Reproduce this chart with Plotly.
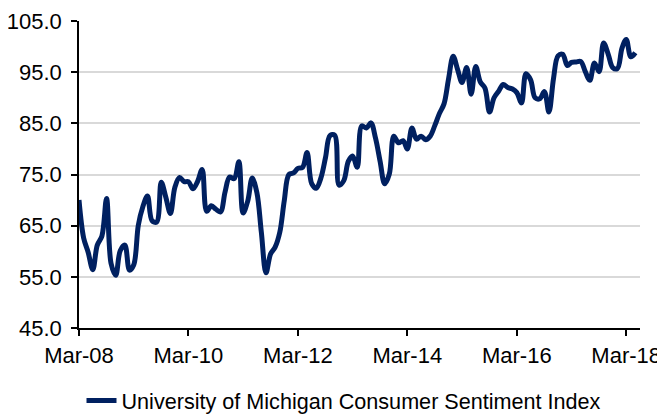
import pandas as pd
import plotly.graph_objects as go

# Monthly dates Mar-2008 .. May-2018
months = pd.date_range("2008-03-01", "2018-05-01", freq="MS")

sentiment_2008 = [70.0, 62.6, 59.8, 56.4, 61.2, 63.0, 70.3, 57.6, 55.3, 60.1]
sentiment_2009 = [61.2, 56.3, 57.3, 65.1, 68.7, 70.8, 66.0, 65.7, 73.5, 70.6, 67.4, 72.5]
sentiment_2010 = [74.4, 73.6, 73.6, 72.2, 73.6, 76.0, 67.8, 68.9, 68.2, 67.7, 71.6, 74.5]
sentiment_2011 = [74.2, 77.5, 67.5, 69.8, 74.3, 71.5, 63.7, 55.8, 59.5, 60.8, 63.7, 69.9]
sentiment_2012 = [75.0, 75.3, 76.2, 76.4, 79.3, 73.2, 72.3, 74.3, 78.3, 82.6, 82.7, 72.9]
sentiment_2013 = [73.8, 77.6, 78.6, 76.4, 84.5, 84.1, 85.1, 82.1, 77.5, 73.2, 75.1, 82.5]
sentiment_2014 = [81.2, 81.6, 80.0, 84.1, 81.9, 82.5, 81.8, 82.5, 84.6, 86.9, 88.8, 93.6]
sentiment_2015 = [98.1, 95.4, 93.0, 95.9, 90.7, 96.1, 93.1, 91.9, 87.2, 90.0, 91.3, 92.6]
sentiment_2016 = [92.0, 91.7, 91.0, 89.0, 94.7, 93.5, 90.0, 89.8, 91.2, 87.2, 93.8, 98.2]
sentiment_2017 = [98.5, 96.3, 96.9, 97.0, 97.1, 95.1, 93.4, 96.8, 95.1, 100.7, 98.5, 95.9]
sentiment_2018 = [95.7, 99.7, 101.4, 98.0, 98.8]

sentiment = (sentiment_2008 + sentiment_2009 + sentiment_2010 + sentiment_2011 +
             sentiment_2012 + sentiment_2013 + sentiment_2014 + sentiment_2015 +
             sentiment_2016 + sentiment_2017 + sentiment_2018)

tick_dates = ["2008-03-01", "2010-03-01", "2012-03-01", "2014-03-01", "2016-03-01", "2018-03-01"]
tick_labels = ["Mar-08", "Mar-10", "Mar-12", "Mar-14", "Mar-16", "Mar-18"]
series_name = "University of Michigan Consumer Sentiment Index"

FONT = "Liberation Sans, Arial, sans-serif"
FSIZE = 22
LSIZE = 21.6

# page body has an 8px margin, so the figure is drawn 8px smaller and shifted
W, H = 657, 406

fig = go.Figure()
fig.add_trace(go.Scatter(
    x=months, y=sentiment, mode="lines", name=series_name,
    line=dict(color="#002060", width=5, shape="spline", smoothing=1),
))

fig.update_layout(
    width=W, height=H,
    margin=dict(l=71, r=25, t=13, b=86, autoexpand=False),
    paper_bgcolor="white", plot_bgcolor="white",
    font=dict(family=FONT, size=FSIZE, color="#000000"),
    showlegend=True,
    legend=dict(
        orientation="h", xref="container", yref="container",
        x=(344 - 8) / W, xanchor="center", y=1 - (401 - 8) / H, yanchor="middle",
        font=dict(family=FONT, size=LSIZE, color="#000000"),
    ),
)

fig.update_xaxes(
    type="date", range=["2008-03-01", "2018-06-01"], automargin=False,
    tickmode="array", tickvals=tick_dates, ticktext=tick_labels,
    showgrid=False, showline=True, linecolor="#000000", linewidth=2,
    ticks="outside", ticklen=6, tickwidth=1.5, tickcolor="#000000",
    tickfont=dict(family=FONT, size=FSIZE, color="#000000"),
    ticklabelstandoff=1,
)
fig.update_yaxes(
    range=[45, 105], dtick=10, tick0=45, tickformat=".1f", automargin=False,
    showgrid=True, gridcolor="#d9d9d9", gridwidth=2, zeroline=False,
    showline=True, linecolor="#000000", linewidth=1.5,
    ticks="outside", ticklen=6, tickwidth=1.5, tickcolor="#000000",
    tickfont=dict(family=FONT, size=FSIZE, color="#000000"),
    ticklabelstandoff=5,
)

fig.write_html("out.html")
